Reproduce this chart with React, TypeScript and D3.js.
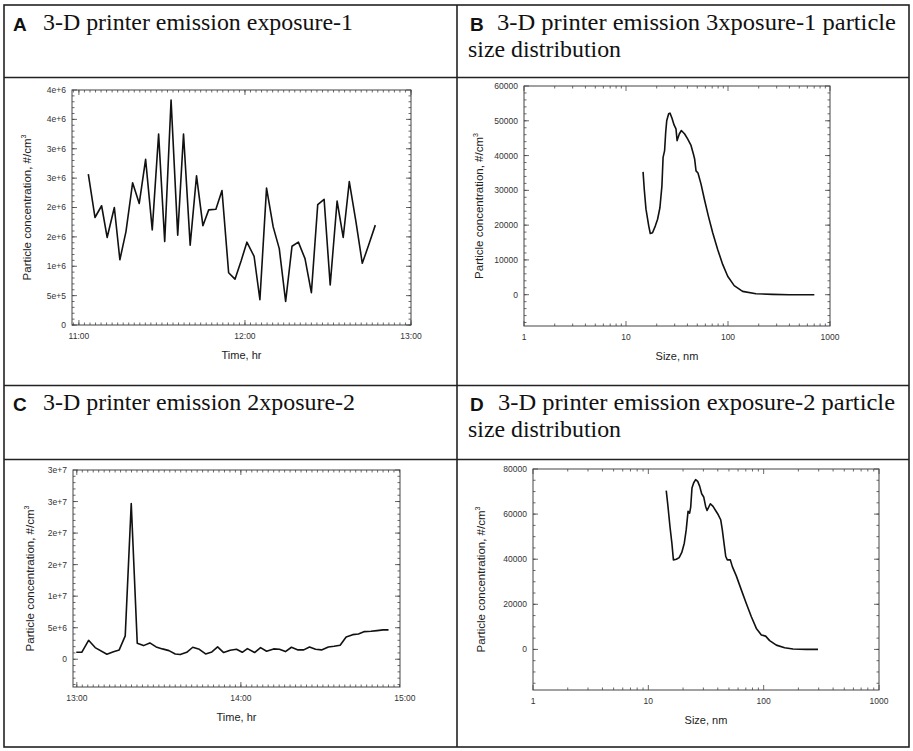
import * as d3 from "d3"

// ---- Panel A: exposure-1 time series (minutes after 11:00) ----
const aMinutes = [3.4, 5.8, 8.2, 10.2, 12.8, 14.8, 17, 19.4, 21.8, 24.1, 26.5, 28.8, 31, 33.3, 35.7, 37.8, 40.2, 42.5, 44.8, 46.9, 49.5, 51.7, 54.1, 56.4, 58.6, 60.7, 63.3, 65.4, 67.8, 70.2, 72.4, 74.7, 77, 79.3, 81.7, 84, 86.3, 88.6, 90.8, 93.3, 95.5, 97.7, 100.1, 102.4, 104.7, 107.1]
const aConc = [2.57e6, 1.83e6, 2.03e6, 1.49e6, 2.0e6, 1.11e6, 1.59e6, 2.42e6, 2.07e6, 2.82e6, 1.62e6, 3.25e6, 1.42e6, 3.83e6, 1.53e6, 3.25e6, 1.36e6, 2.54e6, 1.69e6, 1.96e6, 1.97e6, 2.29e6, 0.89e6, 0.78e6, 1.09e6, 1.41e6, 1.17e6, 0.43e6, 2.33e6, 1.67e6, 1.3e6, 0.4e6, 1.34e6, 1.41e6, 1.13e6, 0.55e6, 2.05e6, 2.14e6, 0.68e6, 2.11e6, 1.49e6, 2.44e6, 1.76e6, 1.05e6, 1.36e6, 1.7e6]
const aYTicks = [0, 5e5, 1e6, 1.5e6, 2e6, 2.5e6, 3e6, 3.5e6, 4e6]
const aYLabels = ["0", "5e+5", "1e+6", "2e+6", "2e+6", "3e+6", "3e+6", "4e+6", "4e+6"]
const aXTicks = [0, 60, 120]
const aXLabels = ["11:00", "12:00", "13:00"]

// ---- Panel B: exposure-1 size distribution ----
const bSize = [14.7, 15.1, 15.7, 16.7, 17.3, 18.2, 19.4, 20.4, 21.5, 22.5, 23.1, 23.9, 24.5, 25.1, 26.2, 27.0, 28.2, 29.6, 30.9, 31.7, 33.3, 34.9, 37.6, 40.2, 43.4, 45.7, 47.1, 48.6, 50.8, 54.4, 58.6, 64.2, 70.8, 79.2, 88.7, 99.3, 115, 139, 188, 274, 399, 702]
const bConc = [35300, 30300, 24600, 19800, 17600, 17800, 19800, 21700, 25000, 31300, 39500, 41400, 46700, 50100, 52000, 52200, 50800, 48800, 47700, 44300, 46200, 47200, 46200, 44800, 42900, 40500, 39000, 35600, 35000, 31800, 27500, 22600, 17800, 13000, 8700, 5300, 2600, 960, 290, 100, 0, 0]
const bYTicks = [0, 10000, 20000, 30000, 40000, 50000, 60000]
const bYLabels = ["0", "10000", "20000", "30000", "40000", "50000", "60000"]

// ---- Panel C: exposure-2 time series (minutes after 13:00) ----
const cMinutes = [-0.2, 1.8, 4.3, 6.7, 11, 13.4, 15.5, 17.7, 19.9, 22.1, 24.4, 26.7, 29, 31.3, 33.7, 36, 37.8, 40.2, 42.4, 44.8, 47.1, 49.4, 51.5, 53.7, 56.1, 58.4, 60.5, 62.4, 65, 67.2, 69.4, 72, 74.1, 76.3, 78.5, 80.9, 83, 85.1, 87.3, 89.5, 92, 94.1, 96.3, 98.5, 100.9, 103, 105.2, 107.6, 109.8, 112, 114]
const cConc = [1.1e6, 1.1e6, 3.0e6, 1.85e6, 0.8e6, 1.2e6, 1.48e6, 3.7e6, 24.7e6, 2.53e6, 2.16e6, 2.59e6, 1.95e6, 1.64e6, 1.37e6, 0.84e6, 0.74e6, 1.1e6, 1.9e6, 1.58e6, 0.84e6, 1.16e6, 1.95e6, 1.06e6, 1.43e6, 1.58e6, 1.1e6, 1.69e6, 1.06e6, 1.85e6, 1.27e6, 1.64e6, 1.58e6, 1.21e6, 1.9e6, 1.48e6, 1.48e6, 1.95e6, 1.58e6, 1.48e6, 1.95e6, 2.06e6, 2.22e6, 3.54e6, 3.9e6, 4.0e6, 4.38e6, 4.43e6, 4.54e6, 4.65e6, 4.65e6]
const cYTicks = [0, 5e6, 1e7, 1.5e7, 2e7, 2.5e7, 3e7]
const cYLabels = ["0", "5e+6", "1e+7", "2e+7", "2e+7", "3e+7", "3e+7"]
const cXLabels = ["13:00", "14:00", "15:00"]

// ---- Panel D: exposure-2 size distribution ----
const dSize = [14.3, 14.8, 15.4, 16.0, 16.5, 17.5, 18.5, 19.5, 20.5, 21.3, 22.1, 22.8, 23.3, 23.9, 24.7, 25.7, 26.8, 27.9, 29, 30.2, 31.4, 32.3, 34.5, 36.4, 38.3, 40.4, 42.4, 43.8, 45.3, 46.9, 48.4, 51.4, 53.5, 57.9, 64, 70.7, 78.2, 86.4, 95.5, 104, 112.7, 128.8, 152, 179.5, 234, 296]
const dConc = [70400, 63400, 54500, 47100, 39700, 40000, 40700, 43000, 47100, 53000, 61200, 60400, 63100, 71600, 73800, 75300, 74500, 72300, 69000, 67600, 63400, 61600, 64600, 63400, 61600, 59700, 57500, 53000, 47100, 41200, 39700, 39700, 36700, 32600, 26400, 20400, 14500, 9300, 6400, 5900, 3900, 1900, 740, 150, 0, 0]
const dYTicks = [0, 20000, 40000, 60000, 80000]
const dYLabels = ["0", "20000", "40000", "60000", "80000"]

const sizeTicks = [1, 10, 100, 1000]
const sizeLabels = ["1", "10", "100", "1000"]

const serif = "'Liberation Serif', 'Times New Roman', serif"
const sans = "'Liberation Sans', Arial, sans-serif"
const axisColor = "#444"

type Scale = (v: number) => number

type PanelProps = {
  x: Scale
  y: Scale
  box: [number, number, number, number] // left, top, right, bottom
  xs: number[]
  ys: number[]
  xTicks: number[]
  xLabels: string[]
  xMinor: number[]
  yTicks: number[]
  yLabels: string[]
  yMinor: number[]
  xTitle: string
  yTitleX: number
}

function Panel(p: PanelProps) {
  const [l, t, r, b] = p.box
  const line = d3
    .line<number>()
    .x((_, i) => p.x(p.xs[i]))
    .y((d) => p.y(d))
  const inX = (v: number) => p.x(v) >= l - 0.5 && p.x(v) <= r + 0.5
  const inY = (v: number) => p.y(v) >= t - 0.5 && p.y(v) <= b + 0.5
  const minor = (len: number) => (
    <>
      {p.xMinor.filter(inX).map((v, i) => (
        <g key={"xm" + i}>
          <line x1={p.x(v)} x2={p.x(v)} y1={b} y2={b - len} />
          <line x1={p.x(v)} x2={p.x(v)} y1={t} y2={t + len} />
        </g>
      ))}
      {p.yMinor.filter(inY).map((v, i) => (
        <g key={"ym" + i}>
          <line x1={l} x2={l + len} y1={p.y(v)} y2={p.y(v)} />
          <line x1={r} x2={r - len} y1={p.y(v)} y2={p.y(v)} />
        </g>
      ))}
    </>
  )
  return (
    <g>
      <g stroke={axisColor} strokeWidth={0.8}>
        {minor(2.5)}
        {p.xTicks.filter(inX).map((v, i) => (
          <g key={"xt" + i}>
            <line x1={p.x(v)} x2={p.x(v)} y1={b} y2={b - 5} />
            <line x1={p.x(v)} x2={p.x(v)} y1={t} y2={t + 5} />
          </g>
        ))}
        {p.yTicks.filter(inY).map((v, i) => (
          <g key={"yt" + i}>
            <line x1={l} x2={l + 5} y1={p.y(v)} y2={p.y(v)} />
            <line x1={r} x2={r - 5} y1={p.y(v)} y2={p.y(v)} />
          </g>
        ))}
      </g>
      <rect x={l} y={t} width={r - l} height={b - t} fill="none" stroke={axisColor} strokeWidth={1} />
      <path d={line(p.ys) || ""} fill="none" stroke="#111" strokeWidth={1.6} strokeLinejoin="round" />
      <g fontFamily={sans} fontSize={8.5} fill="#333">
        {p.yTicks.map((v, i) => (
          <text key={"yl" + i} x={l - 6} y={p.y(v)} dy="0.35em" textAnchor="end">
            {p.yLabels[i]}
          </text>
        ))}
        {p.xTicks.map((v, i) => (
          <text key={"xl" + i} x={p.x(v)} y={b + 14} textAnchor="middle">
            {p.xLabels[i]}
          </text>
        ))}
      </g>
      <g fontFamily={sans} fill="#222">
        <text x={(l + r) / 2} y={b + 34} textAnchor="middle" fontSize={11}>
          {p.xTitle}
        </text>
        <text
          transform={`translate(${p.yTitleX},${(t + b) / 2}) rotate(-90)`}
          textAnchor="middle"
          fontSize={11.5}
        >
          Particle concentration, #/cm
          <tspan fontSize={7} dy={-5}>
            3
          </tspan>
        </text>
      </g>
    </g>
  )
}

function logMinor(lo: number, hi: number) {
  const out: number[] = []
  for (let d = lo; d < hi; d *= 10) for (let k = 2; k <= 9; k++) out.push(d * k)
  return out
}

type HeaderProps = {
  x: number
  y: number
  letter: string
  textX: number
  lines: string[]
  widths: number[]
}

function Header(props: HeaderProps) {
  return (
    <g>
      <text x={props.x} y={props.y + 1} fontFamily={sans} fontWeight="bold" fontSize={19} fill="#111">
        {props.letter}
      </text>
      <text
        x={props.textX}
        y={props.y}
        fontFamily={serif}
        fontSize={23}
        fill="#111"
        textLength={props.widths[0]}
        lengthAdjust="spacingAndGlyphs"
      >
        {props.lines[0]}
      </text>
      {props.lines[1] && (
        <text
          x={props.x - 2}
          y={props.y + 27}
          fontFamily={serif}
          fontSize={23}
          fill="#111"
          textLength={props.widths[1]}
          lengthAdjust="spacingAndGlyphs"
        >
          {props.lines[1]}
        </text>
      )}
    </g>
  )
}

export default function App() {
  const W = 913
  const H = 751

  const xA = d3.scaleLinear().domain([-2.5, 120]).range([72, 411])
  const yA = d3.scaleLinear().domain([0, 4e6]).range([325, 90])
  const xB = d3.scaleLog().domain([1, 1000]).range([524, 830])
  const yB = d3.scaleLinear().domain([-9000, 60000]).range([326, 86])
  const xC = d3.scaleLinear().domain([-1.4, 118.2]).range([73, 400])
  const yC = d3.scaleLinear().domain([-4.4e6, 3e7]).range([687, 470])
  const xD = d3.scaleLog().domain([1, 1000]).range([533, 879])
  const yD = d3.scaleLinear().domain([-18000, 80000]).range([690, 469])

  return (
    <svg
      width={W}
      height={H}
      viewBox={`0 0 ${W} ${H}`}
      style={{ position: "absolute", left: 0, top: 0, background: "#fff" }}
    >
      <rect x={0} y={0} width={W} height={H} fill="#fff" />
      {/* table frame */}
      <g stroke="#222" strokeWidth={1.6} fill="none">
        <rect x={4} y={5} width={905} height={742} />
        <line x1={457} x2={457} y1={5} y2={747} />
        <line x1={4} x2={909} y1={385.5} y2={385.5} />
        <line x1={4} x2={909} y1={77.5} y2={77.5} />
        <line x1={4} x2={909} y1={459.5} y2={459.5} />
      </g>

      <Header x={13} y={29.5} letter="A" textX={43} lines={["3-D printer emission exposure-1"]} widths={[310]} />
      <Header
        x={470}
        y={29.5}
        letter="B"
        textX={497}
        lines={["3-D printer emission 3xposure-1 particle", "size distribution"]}
        widths={[399, 153]}
      />
      <Header x={13} y={409.5} letter="C" textX={43} lines={["3-D printer emission 2xposure-2"]} widths={[312]} />
      <Header
        x={470}
        y={409.5}
        letter="D"
        textX={498}
        lines={["3-D printer emission exposure-2 particle", "size distribution"]}
        widths={[397, 153]}
      />

      <Panel
        x={xA}
        y={yA}
        box={[72, 90, 411, 325]}
        xs={aMinutes}
        ys={aConc}
        xTicks={aXTicks}
        xLabels={aXLabels}
        xMinor={d3.range(-2, 121, 2)}
        yTicks={aYTicks}
        yLabels={aYLabels}
        yMinor={d3.range(0, 4e6, 1e5)}
        xTitle="Time, hr"
        yTitleX={31}
      />
      <Panel
        x={xB}
        y={yB}
        box={[524, 86, 830, 326]}
        xs={bSize}
        ys={bConc}
        xTicks={sizeTicks}
        xLabels={sizeLabels}
        xMinor={logMinor(1, 1000)}
        yTicks={bYTicks}
        yLabels={bYLabels}
        yMinor={d3.range(-8000, 60000, 2000)}
        xTitle="Size, nm"
        yTitleX={483}
      />
      <Panel
        x={xC}
        y={yC}
        box={[73, 470, 400, 687]}
        xs={cMinutes}
        ys={cConc}
        xTicks={aXTicks}
        xLabels={cXLabels}
        xMinor={d3.range(0, 119, 2)}
        yTicks={cYTicks}
        yLabels={cYLabels}
        yMinor={d3.range(-4e6, 3e7, 1e6)}
        xTitle="Time, hr"
        yTitleX={34}
      />
      <Panel
        x={xD}
        y={yD}
        box={[533, 469, 879, 690]}
        xs={dSize}
        ys={dConc}
        xTicks={sizeTicks}
        xLabels={sizeLabels}
        xMinor={logMinor(1, 1000)}
        yTicks={dYTicks}
        yLabels={dYLabels}
        yMinor={d3.range(-15000, 80000, 5000)}
        xTitle="Size, nm"
        yTitleX={485}
      />
    </svg>
  )
}
